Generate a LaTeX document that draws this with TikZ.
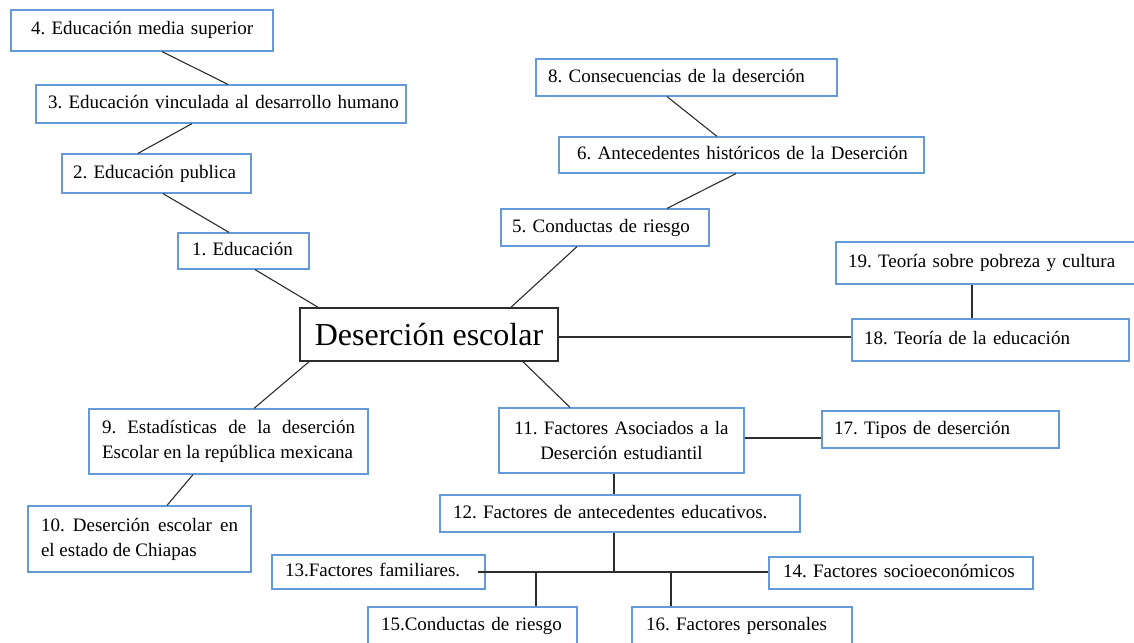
\documentclass[tikz,border=0pt]{standalone}
\usepackage{fontspec}
\setmainfont{Liberation Serif}
\usetikzlibrary{calc}
\definecolor{boxblue}{RGB}{100,155,215}
\definecolor{linegray}{RGB}{45,45,45}
\frenchspacing
\begin{document}
\begin{tikzpicture}[x=1pt,y=-1pt,
  box/.style={draw=boxblue, line width=1.2pt, inner ysep=0pt, font=\fontsize{19}{25}\selectfont\frenchspacing},
  lbox/.style={box, align=left, text height=13pt, text depth=4pt},
  jbox/.style={box, align=justify},
  cbox/.style={box, align=center},
  mainbox/.style={draw=linegray, line width=1.5pt, inner sep=0pt, font=\fontsize{32}{38}\selectfont, text height=21pt, text depth=0pt},
  conn/.style={draw=linegray, line width=1.1pt},
]
\useasboundingbox (0,0) rectangle (1134,642);
\clip (0,0) rectangle (1134,642);

% central node
\node[mainbox, minimum width=258pt, minimum height=53pt] (c) at (429,334.5) {Deserción escolar};

% left upper chain
\node[lbox, minimum width=131pt, minimum height=36pt, inner xsep=14pt, text width=103pt] (b1) at (243.5,251) {\mbox{1. Educación}};
\node[lbox, minimum width=189pt, minimum height=39pt, inner xsep=11pt, text width=167pt] (b2) at (156.5,173.5) {\mbox{2. Educación publica}};
\node[lbox, minimum width=370pt, minimum height=38pt, inner xsep=12pt, text width=346pt] (b3) at (221,104) {\mbox{3. Educación vinculada al desarrollo humano}};
\node[lbox, minimum width=262pt, minimum height=41pt, inner xsep=20pt, text width=222pt] (b4) at (142,30.5) {\mbox{4. Educación media superior}};

% right upper chain
\node[lbox, minimum width=208pt, minimum height=37pt, inner xsep=11pt, text width=186pt] (b5) at (605,227.5) {\mbox{5. Conductas de riesgo}};
\node[lbox, minimum width=365pt, minimum height=36pt, inner xsep=18pt, text width=329pt] (b6) at (741.5,155) {\mbox{6. Antecedentes históricos de la Deserción}};
\node[lbox, minimum width=301pt, minimum height=37pt, inner xsep=12pt, text width=277pt] (b8) at (686.5,77.5) {\mbox{8. Consecuencias de la deserción}};

% left lower
\node[jbox, minimum width=279pt, minimum height=65pt, inner xsep=13pt, text width=253pt] (b9) at (228.5,441.5) {9. Estadísticas de la deserción\linebreak \mbox{Escolar en la república mexicana}};
\node[jbox, minimum width=223pt, minimum height=66pt, inner xsep=13pt, text width=197pt] (b10) at (139.5,539) {10. Deserción escolar en\linebreak \mbox{el estado de Chiapas}};

% right lower
\node[cbox, minimum width=245pt, minimum height=65pt, inner xsep=13pt, text width=219pt] (b11) at (621.5,440.5) {11. Factores Asociados a la\\Deserción estudiantil};
\node[lbox, minimum width=360pt, minimum height=37pt, inner xsep=13pt, text width=334pt] (b12) at (620,513.5) {\mbox{12. Factores de antecedentes educativos.}};
\node[lbox, minimum width=213pt, minimum height=34pt, inner xsep=13pt, text width=187pt] (b13) at (378.5,572) {\mbox{13.Factores familiares.}};
\node[lbox, minimum width=264pt, minimum height=32pt, inner xsep=14pt, text width=236pt] (b14) at (901,573) {\mbox{14. Factores socioeconómicos}};
\node[lbox, minimum width=209pt, minimum height=37pt, inner xsep=13pt, text width=183pt] (b15) at (472.5,625.5) {\mbox{15.Conductas de riesgo}};
\node[lbox, minimum width=220pt, minimum height=37pt, inner xsep=14pt, text width=192pt] (b16) at (742,625.5) {\mbox{16. Factores personales}};
\node[lbox, minimum width=237pt, minimum height=37pt, inner xsep=12pt, text width=213pt] (b17) at (940.5,429.5) {\mbox{17. Tipos de deserción}};
\node[lbox, minimum width=277pt, minimum height=42pt, inner xsep=12pt, text width=253pt] (b18) at (990.5,340) {\mbox{18. Teoría de la educación}};
\node[lbox, minimum width=304pt, minimum height=42pt, inner xsep=12pt, text width=280pt] (b19) at (988,263) {\mbox{19. Teoría sobre pobreza y cultura}};

% connectors
\draw[conn] ($(b4.south)+(20,0)$) -- ($(b3.north)+(7,0)$);
\draw[conn] ($(b3.south)+(-29,0)$) -- ($(b2.north)+(-18.5,0)$);
\draw[conn] ($(b2.south)+(6.5,0)$) -- ($(b1.north)+(-14.5,0)$);
\draw[conn] ($(b1.south)+(11.5,0)$) -- ($(c.north)+(-111,0)$);
\draw[conn] ($(c.north)+(82,0)$) -- ($(b5.south)+(-28,0)$);
\draw[conn] ($(b5.north)+(62,0)$) -- ($(b6.south)+(-5.5,0)$);
\draw[conn] ($(b6.north)+(-24.5,0)$) -- ($(b8.south)+(-19.5,0)$);
\draw[conn] ($(c.east)+(0,2.5)$) -- ($(b18.west)+(0,-3)$);
\draw[conn] ($(b18.north)+(-18.5,0)$) -- ($(b19.south)+(-16,0)$);
\draw[conn] ($(c.south)+(-120,0)$) -- ($(b9.north)+(25.5,0)$);
\draw[conn] ($(b9.south)+(-35.5,0)$) -- ($(b10.north)+(27.5,0)$);
\draw[conn] ($(c.south)+(94,0)$) -- ($(b11.north)+(-51.5,0)$);
\draw[conn] ($(b11.east)+(0,-2.5)$) -- ($(b17.west)+(0,8.5)$);
\draw[conn] ($(b11.south)+(-7.5,0)$) -- ($(b12.north)+(-6,0)$);
\coordinate (j) at (614,572);
\draw[conn] ($(b12.south)+(-6,0)$) -- (j);
\draw[conn] ($(b13.east)+(-8,0)$) -- (b13.east -| b14.west);
\path ($(b15.north)+(63.5,0)$) coordinate (t15);
\path ($(b16.north)+(-71,0)$) coordinate (t16);
\draw[conn] (t15) -- (t15 |- j);
\draw[conn] (t16) -- (t16 |- j);
\end{tikzpicture}
\end{document}
